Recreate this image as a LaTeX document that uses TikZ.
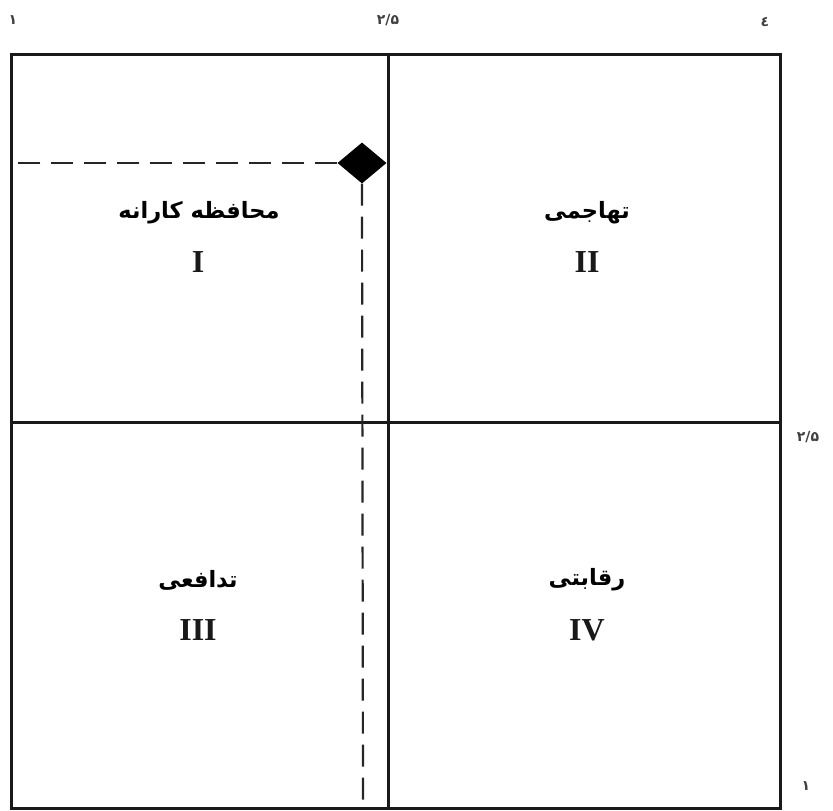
\documentclass[tikz,border=0pt]{standalone}
\usepackage{fontspec}
\setmainfont{Liberation Serif}
\newfontfamily\arabicfont[Script=Arabic]{DejaVu Sans}
\TeXXeTstate=1
\usetikzlibrary{shapes.geometric}
\begin{document}
\begin{tikzpicture}[x=1pt,y=-1pt,
  frame/.style={line width=3pt,black!90},
  guide/.style={line width=2.2pt,black!85,dash pattern=on 22pt off 11pt},
  fa/.style={font=\arabicfont\bfseries\fontsize{22.5}{26}\selectfont,inner sep=0pt},
  roman/.style={font=\bfseries\fontsize{32}{35}\selectfont,inner sep=0pt,text=black!90},
  tick/.style={font=\arabicfont\bfseries\fontsize{14}{16}\selectfont,inner sep=0pt,text=black!75}]
\useasboundingbox (0,0) rectangle (833,811);
% frame
\draw[frame] (11,54) rectangle (780,808);
\coordinate (vt) at (388,54);
\coordinate (vb) at (388,808);
\coordinate (hl) at (11,422);
\coordinate (hr) at (780,422);
\draw[frame] (vt) -- (vb);
\draw[frame] (hl) -- (hr);
% point
\node[diamond,fill=black,minimum width=49pt,minimum height=41pt,inner sep=0pt] (pt) at (362,163) {};
\coordinate (dl) at (15,163);
\coordinate (db) at (363,802);
\draw[guide] (pt.west) -- (dl);
\draw[guide] (pt.south) -- (db);
% quadrant labels
\node[fa] (q1) at (199,213) {\beginR محافظه کارانه\endR};
\node[roman] (r1) at (198,262) {I};
\node[fa] (q2) at (587,213) {\beginR تهاجمی\endR};
\node[roman] (r2) at (587,262) {II};
\node[fa] (q3) at (198,580) {\beginR تدافعی\endR};
\node[roman] (r3) at (198,630) {III};
\node[fa] (q4) at (587,580) {\beginR رقابتی\endR};
\node[roman] (r4) at (587,630) {IV};
% axis ticks
\node[tick] (t1) at (13,20) {۱};
\node[tick] (t2) at (388,20) {۲/۵};
\node[tick] (t3) at (765,22) {٤};
\node[tick] (t4) at (808,437) {۲/۵};
\node[tick] (t5) at (806,786) {۱};
\end{tikzpicture}
\end{document}
